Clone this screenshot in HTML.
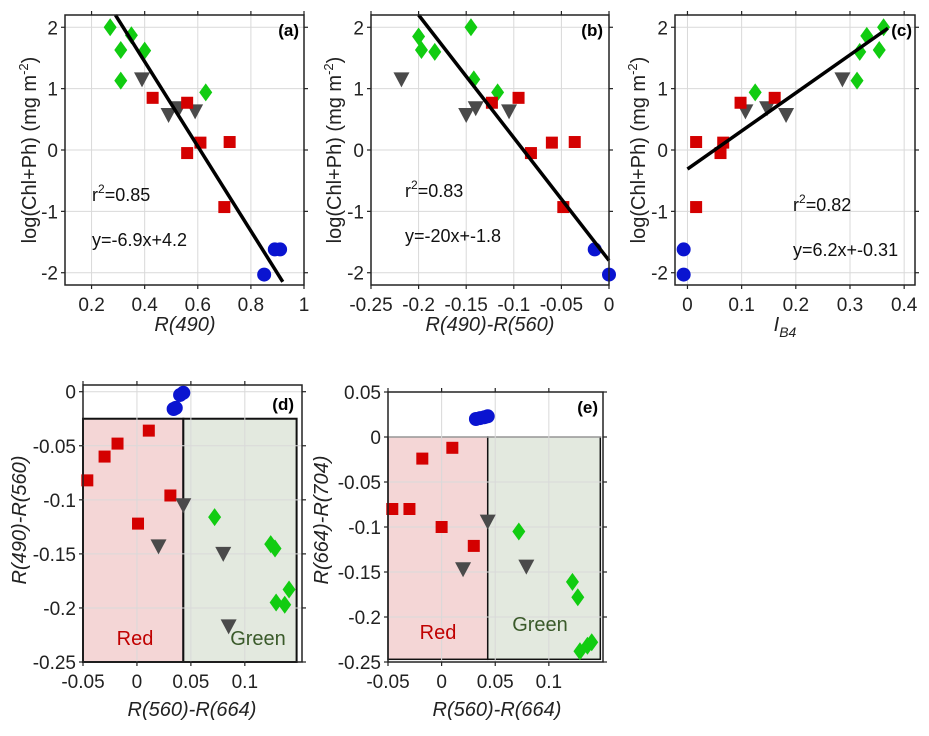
<!DOCTYPE html>
<html><head><meta charset="utf-8"><style>
html,body{margin:0;padding:0;background:#fff}
svg{display:block;font-family:"Liberation Sans",Arial,sans-serif}
</style></head><body>
<svg id="fig" width="929" height="736" viewBox="0 0 929 736" xmlns="http://www.w3.org/2000/svg"></svg>
<script>
// ---- Data ----
const aGreenX=[0.27,0.35,0.31,0.40,0.31,0.63];
const aGreenY=[2.0,1.87,1.63,1.62,1.13,0.94];
const aGrayX=[0.39,0.49,0.53,0.59];
const aGrayY=[1.15,0.57,0.68,0.63];
const aRedX=[0.43,0.56,0.56,0.61,0.72,0.70];
const aRedY=[0.85,0.77,-0.05,0.12,0.13,-0.93];
const aBlueX=[0.89,0.91,0.85];
const aBlueY=[-1.62,-1.62,-2.03];
const aFit=[-6.9,4.2,0.29,0.92];

const bGreenX=[-0.145,-0.2,-0.197,-0.183,-0.142,-0.117];
const bGreenY=[2.0,1.85,1.63,1.6,1.15,0.94];
const bGrayX=[-0.218,-0.15,-0.14,-0.105];
const bGrayY=[1.15,0.57,0.68,0.63];
const bRedX=[-0.123,-0.095,-0.082,-0.06,-0.036,-0.048];
const bRedY=[0.77,0.85,-0.05,0.12,0.13,-0.93];
const bBlueX=[-0.015,0];
const bBlueY=[-1.62,-2.03];
const bFit=[-20,-1.8,-0.2,0];

const cGreenX=[0.362,0.331,0.318,0.354,0.313,0.125];
const cGreenY=[2.0,1.86,1.6,1.63,1.13,0.94];
const cGrayX=[0.286,0.107,0.147,0.182];
const cGrayY=[1.15,0.63,0.68,0.57];
const cRedX=[0.098,0.161,0.016,0.066,0.061,0.016];
const cRedY=[0.77,0.85,0.13,0.12,-0.05,-0.93];
const cBlueX=[-0.007,-0.007];
const cBlueY=[-1.62,-2.03];
const cFit=[6.2,-0.31,0,0.37];

const dRedX=[-0.046,-0.03,-0.018,0.011,0.031,0.001];
const dRedY=[-0.082,-0.06,-0.048,-0.036,-0.096,-0.122];
const dGrayX=[0.043,0.02,0.08,0.085];
const dGrayY=[-0.105,-0.143,-0.15,-0.217];
const dGreenX=[0.072,0.124,0.128,0.141,0.129,0.137];
const dGreenY=[-0.116,-0.141,-0.145,-0.183,-0.195,-0.197];
const dBlueX=[0.034,0.036,0.04,0.043];
const dBlueY=[-0.016,-0.015,-0.003,-0.001];

const eRedX=[-0.046,-0.03,-0.018,0.01,0.0,0.03];
const eRedY=[-0.08,-0.08,-0.024,-0.012,-0.1,-0.121];
const eGrayX=[0.043,0.02,0.079];
const eGrayY=[-0.094,-0.147,-0.144];
const eGreenX=[0.072,0.122,0.127,0.129,0.136,0.14];
const eGreenY=[-0.105,-0.161,-0.178,-0.238,-0.232,-0.228];
const eBlueX=[0.032,0.036,0.04,0.043];
const eBlueY=[0.02,0.021,0.022,0.023];

const topYTicks=[-2,-1,0,1,2];
const aXTicks=[0.2,0.4,0.6,0.8,1];
const bXTicks=[-0.25,-0.2,-0.15,-0.1,-0.05,0];
const cXTicks=[0,0.1,0.2,0.3,0.4];
const dXTicks=[-0.05,0,0.05,0.1];
const dYTicks=[0,-0.05,-0.1,-0.15,-0.2,-0.25];
const eYTicks=[0.05,0,-0.05,-0.1,-0.15,-0.2,-0.25];

// ---- helpers ----
const NS="http://www.w3.org/2000/svg";
const svg=document.getElementById('fig');
function mk(tag,attrs,parent,text){const e=document.createElementNS(NS,tag);for(const k in attrs)e.setAttribute(k,attrs[k]);if(text!==undefined)e.textContent=text;(parent||svg).appendChild(e);return e;}
function fmt(v){return String(Math.round(v*1000)/1000);}
function panel(name,L,R,T,B,x0,x1,y0,y1){
  const g=mk('g',{});
  
  
  const sx=v=>L+(v-x0)/(x1-x0)*(R-L);
  const sy=v=>B-(v-y0)/(y1-y0)*(B-T);
  return {g,sx,sy,L,R,T,B};
}
function gridAxes(p,xt,yt){
  for(const v of xt){const x=p.sx(v);
    const l=mk('line',{x1:x,x2:x,y1:p.T,y2:p.B,stroke:'#d9d9d9','stroke-width':1},p.g);
    
    mk('line',{x1:x,x2:x,y1:p.B,y2:p.B+4,stroke:'#222','stroke-width':1.2},p.g);
    mk('line',{x1:x,x2:x,y1:p.T,y2:p.T-4,stroke:'#222','stroke-width':1.2},p.g);
    const t=mk('text',{x:x,y:p.B+26,'text-anchor':'middle','font-size':19,fill:'#222'},p.g,fmt(v));
    
  }
  for(const v of yt){const y=p.sy(v);
    const l=mk('line',{x1:p.L,x2:p.R,y1:y,y2:y,stroke:'#d9d9d9','stroke-width':1},p.g);
    
    mk('line',{x1:p.L-4,x2:p.L,y1:y,y2:y,stroke:'#222','stroke-width':1.2},p.g);
    mk('line',{x1:p.R,x2:p.R+4,y1:y,y2:y,stroke:'#222','stroke-width':1.2},p.g);
    const t=mk('text',{x:p.L-7,y:y+7,'text-anchor':'end','font-size':19,fill:'#222'},p.g,fmt(v));
    
  }
}
function frame(p){const r=mk('rect',{x:p.L,y:p.T,width:p.R-p.L,height:p.B-p.T,fill:'none',stroke:'#222','stroke-width':1.5},p.g);
  }
function squares(p,X,Y){X.forEach((v,i)=>{const e=mk('rect',{x:p.sx(v)-6,y:p.sy(Y[i])-6,width:12,height:12,fill:'#d40000'},p.g);
  });}
function diamonds(p,X,Y){X.forEach((v,i)=>{const x=p.sx(v),y=p.sy(Y[i]);const e=mk('polygon',{points:`${x},${y-9} ${x+6.5},${y} ${x},${y+9} ${x-6.5},${y}`,fill:'#11cc11'},p.g);
  });}
function tris(p,X,Y,col){X.forEach((v,i)=>{const x=p.sx(v),y=p.sy(Y[i]);const e=mk('polygon',{points:`${x-8},${y-7} ${x+8},${y-7} ${x},${y+8}`,fill:col||'#4a4a4a'},p.g);
  });}
function circles(p,X,Y){X.forEach((v,i)=>{const e=mk('circle',{cx:p.sx(v),cy:p.sy(Y[i]),r:7,fill:'#0a14d0'},p.g);
  });}
function fit(p,f){const l=mk('line',{x1:p.sx(f[2]),y1:p.sy(f[0]*f[2]+f[1]),x2:p.sx(f[3]),y2:p.sy(f[0]*f[3]+f[1]),stroke:'#000','stroke-width':3.5},p.g);
  }
function label(p,x,y,txt,name){const t=mk('text',{x,y,'text-anchor':'end','font-size':17,'font-weight':'bold',fill:'#000'},p.g,txt);
  }
function ann(p,x,y,r2,eq){
  const t=mk('text',{x,y,'font-size':18,fill:'#111'},p.g);
  mk('tspan',{},t,'r');mk('tspan',{dy:-8,'font-size':12},t,'2');mk('tspan',{dy:8},t,'='+r2);
  const e=mk('text',{x,y:y+45,'font-size':18,fill:'#111'},p.g,eq);
}
function ylabel(p,x,y,italic){const t=mk('text',{x:0,y:0,transform:`translate(${x},${y}) rotate(-90)`,'text-anchor':'middle','font-size':20,fill:'#222','font-style':italic?'italic':'normal'},p.g);
  return t;}
function xlabel(p,x,y,txt){const t=mk('text',{x,y,'text-anchor':'middle','font-size':20,'font-style':'italic',fill:'#222'},p.g,txt);
  return t;}
function chlLabel(p,x){const t=ylabel(p,x,150,false);mk('tspan',{},t,'log(Chl+Ph) (mg m');mk('tspan',{dy:-8,'font-size':13},t,'-2');mk('tspan',{dy:8},t,')');}

// ---- Panel a ----
let p=panel('panel-a',65,304,15,285,0.1,1,-2.2,2.2);
gridAxes(p,aXTicks,topYTicks);
diamonds(p,aGreenX,aGreenY);tris(p,aGrayX,aGrayY);squares(p,aRedX,aRedY);circles(p,aBlueX,aBlueY);
fit(p,aFit);frame(p);label(p,299,36,'(a)','panel-label-a');ann(p,92,201,'0.85','y=-6.9x+4.2');
chlLabel(p,36);xlabel(p,185,331,'R(490)');

// ---- Panel b ----
p=panel('panel-b',371,609,15,285,-0.25,0,-2.2,2.2);
gridAxes(p,bXTicks,topYTicks);
diamonds(p,bGreenX,bGreenY);tris(p,bGrayX,bGrayY);squares(p,bRedX,bRedY);circles(p,bBlueX,bBlueY);
fit(p,bFit);frame(p);label(p,603,36,'(b)','panel-label-b');ann(p,405,197,'0.83','y=-20x+-1.8');
chlLabel(p,341);xlabel(p,490,331,'R(490)-R(560)');

// ---- Panel c ----
p=panel('panel-c',675,915,15,285,-0.023,0.42,-2.2,2.2);
gridAxes(p,cXTicks,topYTicks);
diamonds(p,cGreenX,cGreenY);tris(p,cGrayX,cGrayY);squares(p,cRedX,cRedY);circles(p,cBlueX,cBlueY);
fit(p,cFit);frame(p);label(p,912,36,'(c)','panel-label-c');ann(p,793,211,'0.82','y=6.2x+-0.31');
chlLabel(p,645);
{const t=xlabel(p,785,331,'');mk('tspan',{},t,'I');mk('tspan',{dy:6,'font-size':14},t,'B4');}

// ---- Panel d ----
p=panel('panel-d',83,302,385,662,-0.05,0.153,-0.25,0.0062);
{const r=mk('rect',{x:p.sx(-0.05),y:p.sy(-0.025),width:p.sx(0.043)-p.sx(-0.05),height:p.sy(-0.25)-p.sy(-0.025),fill:'#f4d6d6',stroke:'#111','stroke-width':2},p.g);
 
 const q=mk('rect',{x:p.sx(0.043),y:p.sy(-0.025),width:p.sx(0.148)-p.sx(0.043),height:p.sy(-0.25)-p.sy(-0.025),fill:'#e3e9df',stroke:'#111','stroke-width':2},p.g);
 }
gridAxes(p,dXTicks,dYTicks);
squares(p,dRedX,dRedY);tris(p,dGrayX,dGrayY);diamonds(p,dGreenX,dGreenY);circles(p,dBlueX,dBlueY);
frame(p);label(p,294,410,'(d)','panel-label-d');
{const t=mk('text',{x:135,y:645,'text-anchor':'middle','font-size':20,fill:'#c00000'},p.g,'Red');
 const u=mk('text',{x:258,y:645,'text-anchor':'middle','font-size':20,fill:'#3a5a2a'},p.g,'Green');}
{const t=ylabel(p,26,520,true);t.textContent='R(490)-R(560)';}
xlabel(p,192,716,'R(560)-R(664)');

// ---- Panel e ----
p=panel('panel-e',388,603,392,662,-0.05,0.1505,-0.25,0.05);
{const r=mk('rect',{x:p.sx(-0.05),y:p.sy(0),width:p.sx(0.043)-p.sx(-0.05),height:p.sy(-0.247)-p.sy(0),fill:'#f4d6d6',stroke:'#111','stroke-width':1.5},p.g);
 
 const q=mk('rect',{x:p.sx(0.043),y:p.sy(0),width:p.sx(0.148)-p.sx(0.043),height:p.sy(-0.247)-p.sy(0),fill:'#e3e9df',stroke:'#111','stroke-width':1.5},p.g);
 }
gridAxes(p,dXTicks,eYTicks);
squares(p,eRedX,eRedY);tris(p,eGrayX,eGrayY);diamonds(p,eGreenX,eGreenY);circles(p,eBlueX,eBlueY);
frame(p);label(p,598,413,'(e)','panel-label-e');
{const t=mk('text',{x:438,y:639,'text-anchor':'middle','font-size':20,fill:'#c00000'},p.g,'Red');
 const u=mk('text',{x:540,y:631,'text-anchor':'middle','font-size':20,fill:'#3a5a2a'},p.g,'Green');}
{const t=ylabel(p,328,520,true);t.textContent='R(664)-R(704)';}
xlabel(p,497,716,'R(560)-R(664)');
</script>
</body></html>
